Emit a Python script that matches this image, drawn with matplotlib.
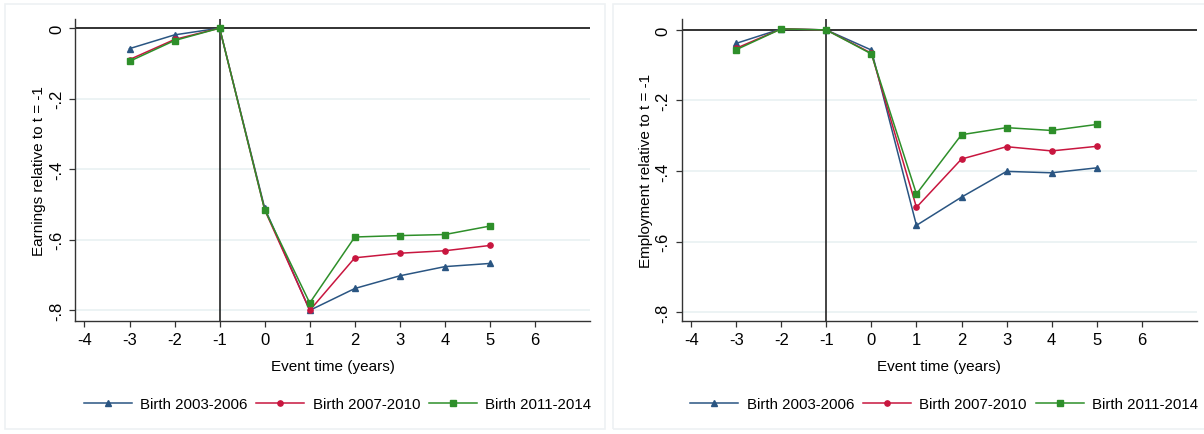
import numpy as np
import matplotlib.pyplot as plt
from matplotlib.lines import Line2D
from matplotlib.patches import Rectangle

plt.rcParams['font.family'] = ['Liberation Sans', 'DejaVu Sans']
plt.rcParams['axes.unicode_minus'] = False

event_time = [-3, -2, -1, 0, 1, 2, 3, 4, 5]
labels = ['Birth 2003-2006', 'Birth 2007-2010', 'Birth 2011-2014']

earn_0306 = [-0.058, -0.019, 0.0, -0.510, -0.800, -0.738, -0.702, -0.676, -0.667]
earn_0710 = [-0.089, -0.032, 0.0, -0.515, -0.800, -0.651, -0.638, -0.631, -0.616]
earn_1114 = [-0.094, -0.035, 0.0, -0.515, -0.779, -0.592, -0.588, -0.585, -0.561]

emp_0306 = [-0.038, 0.003, 0.0, -0.057, -0.554, -0.474, -0.401, -0.405, -0.391]
emp_0710 = [-0.052, 0.003, 0.0, -0.066, -0.503, -0.366, -0.331, -0.343, -0.330]
emp_1114 = [-0.056, 0.003, 0.0, -0.068, -0.465, -0.297, -0.277, -0.285, -0.268]

xticks = [-4, -3, -2, -1, 0, 1, 2, 3, 4, 5, 6]
yticks = [0, -0.2, -0.4, -0.6, -0.8]
ytick_labels = ['0', '-.2', '-.4', '-.6', '-.8']

colors = ['#2a5582', '#c8163f', '#2e8f2a']
markers = ['^', 'o', 's']

W, H = 1204, 435
fig = plt.figure(figsize=(W / 100, H / 100), dpi=100)

# light panel frames
for x0, x1 in [(5, 605), (613, 1210)]:
    fig.patches.append(Rectangle((x0 / W, 5 / H), (x1 - x0) / W, 425 / H,
                                 transform=fig.transFigure, fill=False,
                                 edgecolor='#eef1f3', lw=1.2))


def panel(rect, series, ylabel, ylim):
    ax = fig.add_axes(rect)
    for yv in yticks[1:]:
        ax.axhline(yv, color='#e9f1f2', lw=1.2, zorder=0)
    ax.axhline(0, color='#222222', lw=1.3, zorder=1)
    ax.axvline(-1, color='#111111', lw=1.1, zorder=1)
    for vals, c, m in zip(series, colors, markers):
        ax.plot(event_time, vals, color=c, lw=1.1, marker=m, ms=3.8,
                zorder=3)
    ax.set_xlim(-4.21, 7.22)
    ax.set_ylim(*ylim)
    ax.set_xticks(xticks)
    ax.set_yticks(yticks)
    ax.set_yticklabels(ytick_labels, rotation=90, va='center')
    for s in ['top', 'right']:
        ax.spines[s].set_visible(False)
    for s in ['left', 'bottom']:
        ax.spines[s].set_color('#333333')
        ax.spines[s].set_linewidth(1.0)
    ax.tick_params(direction='out', length=4, width=0.9, color='#333333',
                   labelsize=12, pad=4)
    ax.set_xlabel('Event time (years)', fontsize=11, labelpad=8)
    ax.set_ylabel(ylabel, fontsize=11, labelpad=2)
    handles = [Line2D([], [], color=c, marker=m, ms=3.8, lw=1.1)
               for c, m in zip(colors, markers)]
    ax.legend(handles, labels, loc='center', ncol=3, frameon=False,
              fontsize=10.8, handlelength=3.2, handletextpad=0.55,
              columnspacing=0.6, bbox_to_anchor=(0.51, -0.274))
    return ax


panel([75 / W, 1 - 322.3 / H, 515 / W, 302.3 / H],
      [earn_0306, earn_0710, earn_1114],
      'Earnings relative to t = -1', (-0.831, 0.026))
panel([681.7 / W, 1 - 322.3 / H, 515 / W, 302.3 / H],
      [emp_0306, emp_0710, emp_1114],
      'Employment relative to t = -1', (-0.826, 0.031))

fig.savefig('out.png', dpi=100)
